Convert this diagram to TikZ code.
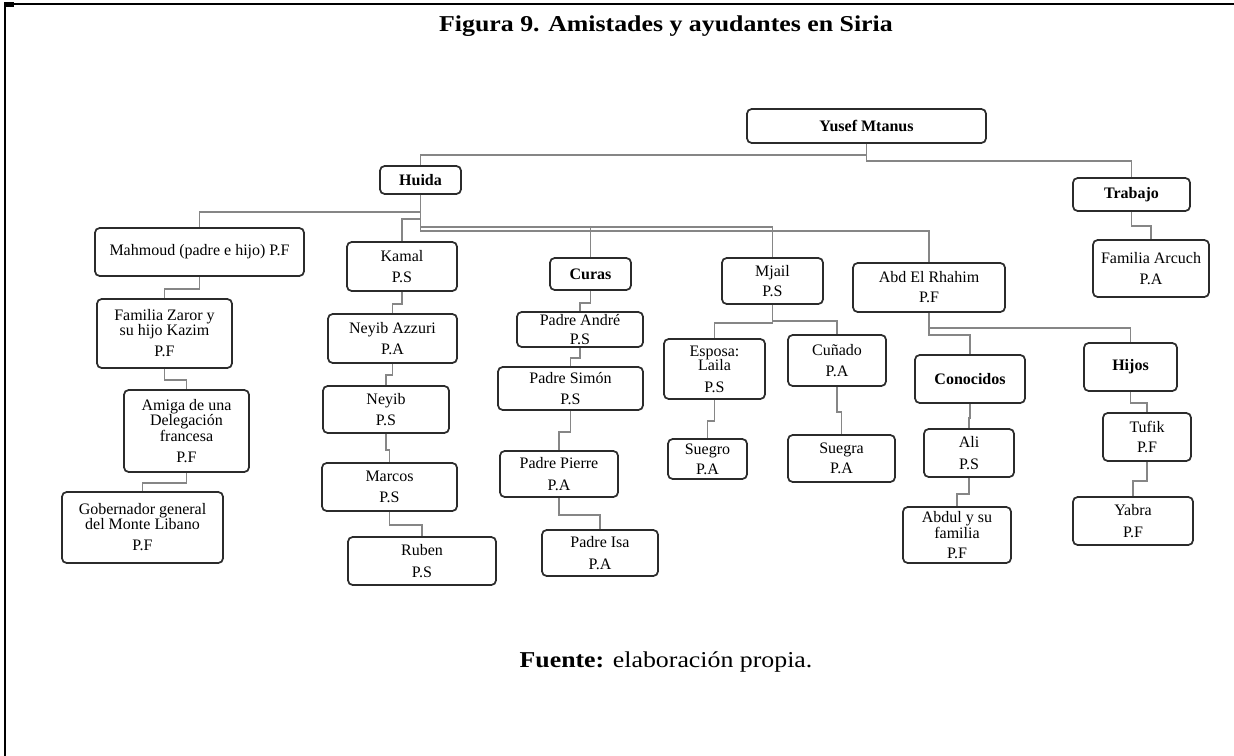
\documentclass[tikz,border=0pt]{standalone}
\usepackage{fontspec}
\setmainfont{Liberation Serif}
\newfontfamily\headfont[FakeStretch=1.14]{Liberation Serif}
\definecolor{boxline}{HTML}{2B2B2B}
\definecolor{linkgray}{HTML}{868686}

\begin{document}
\begin{tikzpicture}[x=0.75pt,y=-0.75pt,
  box/.style={draw=boxline, line width=1.3pt, rounded corners=3.5pt, fill=white,
    inner sep=0pt, align=center, font=\fontsize{12pt}{11pt}\selectfont},
  hd/.style={box, font=\fontsize{12pt}{11pt}\selectfont\bfseries},
  sz/.style 2 args={minimum width=#1*0.75pt, minimum height=#2*0.75pt},
  conn/.style={draw=linkgray, line width=1.1pt},
  heading/.style={font=\headfont\fontsize{17pt}{20pt}\selectfont, anchor=base, inner sep=0pt}
]
\useasboundingbox (0,0) rectangle (1234,756);

% page frame
\draw[line width=1.5pt] (5,756) -- (5,4) -- (1234,4);
\fill (4,2.5) rectangle (14,7);

% headings
\node[heading, font=\headfont\fontsize{17pt}{20pt}\selectfont\bfseries] (title) at (666,32)
  {Figura 9. Amistades y ayudantes en Siria};
\node[heading] (source) at (666,667) {\textbf{Fuente:} elaboración propia.};

% top levels
\node[hd, sz={239}{34}] (yusef)   at (866.5,126)  {Yusef Mtanus};
\node[hd, sz={81}{28}]  (huida)   at (420.5,180)  {Huida};
\node[hd, sz={117}{33}] (trabajo) at (1131.5,194.5) {Trabajo};
\node[box, sz={116}{57}] (arcuch) at (1151,268.5) {Familia Arcuch\\[5pt]P.A};

% Mahmoud branch
\node[box, sz={209}{48}] (mahmoud) at (199.5,252) {Mahmoud (padre e hijo) P.F};
\node[box, sz={135}{69}] (zaror)   at (164.5,333.5) {Familia Zaror y\\su hijo Kazim\\[5pt]P.F};
\node[box, sz={125}{82}] (amiga)   at (186.5,431) {Amiga de una\\Delegación\\francesa\\[5pt]P.F};
\node[box, sz={161}{71}] (gober)   at (142.5,527.5) {Gobernador general\\del Monte Libano\\[5pt]P.F};

% Kamal branch
\node[box, sz={110}{49}] (kamal)   at (402,266.5) {Kamal\\[5pt]P.S};
\node[box, sz={129}{49}] (nazzuri) at (392.5,338.5) {Neyib Azzuri\\[5pt]P.A};
\node[box, sz={126}{47}] (neyib)   at (386,409.5) {Neyib\\[5pt]P.S};
\node[box, sz={135}{48}] (marcos)  at (389.5,487) {Marcos\\[5pt]P.S};
\node[box, sz={148}{48}] (ruben)   at (422,561) {Ruben\\[5pt]P.S};

% Curas branch
\node[hd, sz={81}{32}]   (curas)  at (590.5,274) {Curas};
\node[box, sz={126}{35}] (andre)  at (580,329.5) {Padre André\\[3pt]P.S};
\node[box, sz={145}{43}] (simon)  at (570.5,388.5) {Padre Simón\\[5pt]P.S};
\node[box, sz={118}{46}] (pierre) at (559,474) {Padre Pierre\\[5pt]P.A};
\node[box, sz={116}{46}] (isa)    at (600,553) {Padre Isa\\[5pt]P.A};

% Mjail branch
\node[box, sz={101}{46}] (mjail)  at (772.5,281) {Mjail\\[4pt]P.S};
\node[box, sz={101}{60}] (esposa) at (714.5,369) {Esposa:\\Laila\\[5pt]P.S};
\node[box, sz={98}{51}]  (cunado) at (837,360.5) {Cuñado\\[5pt]P.A};
\node[box, sz={79}{40}]  (suegro) at (707.5,459) {Suegro\\[4pt]P.A};
\node[box, sz={107}{47}] (suegra) at (841.5,458.5) {Suegra\\[4pt]P.A};

% Abd El Rhahim branch
\node[box, sz={152}{49}] (abd)       at (929,287.5) {Abd El Rhahim\\[4pt]P.F};
\node[hd, sz={110}{48}]  (conocidos) at (970,379) {Conocidos};
\node[hd, sz={93}{48}]   (hijos)     at (1130.5,367) {Hijos};
\node[box, sz={90}{48}]  (ali)       at (969,453) {Ali\\[5pt]P.S};
\node[box, sz={108}{56}] (abdul)     at (957,535) {Abdul y su\\familia\\[4pt]P.F};
\node[box, sz={88}{48}]  (tufik)     at (1147,437) {Tufik\\[4pt]P.F};
\node[box, sz={120}{48}] (yabra)     at (1133,521) {Yabra\\[5pt]P.F};

% connectors
\draw[conn] (yusef.south) -- ++(0,11) -| (huida.north);
\draw[conn] (yusef.south) -- ++(0,17) -| (trabajo.north);
\draw[conn] (trabajo.south) -- ++(0,14) -| (arcuch.north);

\draw[conn] (huida.south) -- ++(0,17) -| (mahmoud.north);
\draw[conn] (huida.south) -- ++(0,24) -| (kamal.north);
\draw[conn] (huida.south) -- ++(0,32) -| (curas.north);
\draw[conn] (huida.south) -- ++(0,32) -| (mjail.north);
\draw[conn] (huida.south) -- ++(0,36) -| (abd.north);

\draw[conn] (mahmoud.south) -- ++(0,12) -| (zaror.north);
\draw[conn] (zaror.south) -- ++(0,11) -| (amiga.north);
\draw[conn] (amiga.south) -- ++(0,10) -| (gober.north);

\draw[conn] (kamal.south) -- ++(0,12) -| (nazzuri.north);
\draw[conn] (nazzuri.south) -- ++(0,11) -| (neyib.north);
\draw[conn] (neyib.south) -- ++(0,16) -| (marcos.north);
\draw[conn] (marcos.south) -- ++(0,13) -| (ruben.north);

\draw[conn] (curas.south) -- ++(0,12) -| (andre.north);
\draw[conn] (andre.south) -- ++(0,10) -| (simon.north);
\draw[conn] (simon.south) -- ++(0,21) -| (pierre.north);
\draw[conn] (pierre.south) -- ++(0,17) -| (isa.north);

\draw[conn] (mjail.south) -- ++(0,18) -| (esposa.north);
\draw[conn] (mjail.south) -- ++(0,16) -| (cunado.north);
\draw[conn] (esposa.south) -- ++(0,21) -| (suegro.north);
\draw[conn] (cunado.south) -- ++(0,25) -| (suegra.north);

\draw[conn] (abd.south) -- ++(0,22) -| (conocidos.north);
\draw[conn] (abd.south) -- ++(0,15) -| (hijos.north);
\draw[conn] (conocidos.south) -- ++(0,14) -| (ali.north);
\draw[conn] (ali.south) -- ++(0,16) -| (abdul.north);
\draw[conn] (hijos.south) -- ++(0,11) -| (tufik.north);
\draw[conn] (tufik.south) -- ++(0,19) -| (yabra.north);
\end{tikzpicture}
\end{document}
